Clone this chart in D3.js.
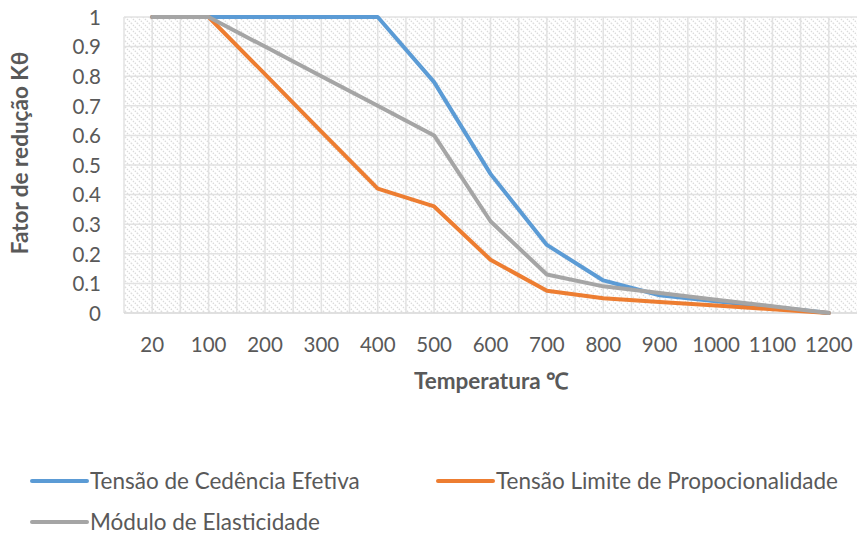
<!DOCTYPE html>
<html>
<head>
<meta charset="utf-8">
<script src="https://cdn.jsdelivr.net/npm/d3@7"></script>
<style>
  html, body { margin: 0; padding: 0; background: #fff; }
  svg { display: block; }
  text { font-family: Lato, "Open Sans", sans-serif; }
</style>
</head>
<body>
<svg id="chart" width="857" height="538"></svg>
<script>
const categories = ["20","100","200","300","400","500","600","700","800","900","1000","1100","1200"];
const tensaoCedencia = [1,1,1,1,1,0.78,0.47,0.23,0.11,0.06,0.04,0.02,0];
const tensaoLimite = [1,1,0.807,0.613,0.42,0.36,0.18,0.075,0.05,0.0375,0.025,0.0125,0];
const moduloElasticidade = [1,1,0.9,0.8,0.7,0.6,0.31,0.13,0.09,0.0675,0.045,0.0225,0];
const yTicks = [0,0.1,0.2,0.3,0.4,0.5,0.6,0.7,0.8,0.9,1];
const seriesNames = ["Tensão de Cedência Efetiva","Tensão Limite de Propocionalidade","Módulo de Elasticidade"];
const seriesColors = ["#5B9BD5","#ED7D31","#A5A5A5"];
const xTitle = "Temperatura \u2103";
const yTitle = "Fator de redução Kθ";

const series = [
  {name: seriesNames[0], color: seriesColors[0], values: tensaoCedencia},
  {name: seriesNames[1], color: seriesColors[1], values: tensaoLimite},
  {name: seriesNames[2], color: seriesColors[2], values: moduloElasticidade}
];

const svg = d3.select("#chart");
const plot = {left: 124, right: 857, top: 17, bottom: 313};

const x = d3.scaleBand().domain(categories).range([plot.left, plot.right]).paddingInner(0).paddingOuter(0);
const y = d3.scaleLinear().domain([0, 1]).range([plot.bottom, plot.top]);
const cx = c => x(c) + x.bandwidth() / 2;

// hatch pattern
const defs = svg.append("defs");
const pat = defs.append("pattern")
  .attr("id", "hatch").attr("patternUnits", "userSpaceOnUse")
  .attr("width", 6).attr("height", 6);
pat.append("path").attr("d", "M-1,-1 L7,7 M-1,5 L1,7 M5,-1 L7,1")
  .attr("stroke", "#dadada").attr("stroke-width", 1.3).attr("stroke-dasharray", "1.5,1.2");

svg.append("rect")
  .attr("x", plot.left).attr("y", plot.top)
  .attr("width", plot.right - plot.left).attr("height", plot.bottom - plot.top)
  .attr("fill", "url(#hatch)");

// vertical gridlines (category centers and boundaries)
const vLines = [];
categories.forEach(c => { vLines.push(x(c)); vLines.push(cx(c)); });
svg.append("g").selectAll("line").data(vLines).join("line")
  .attr("x1", d => d).attr("x2", d => d)
  .attr("y1", plot.top).attr("y2", plot.bottom)
  .attr("stroke", "#e2e2e2").attr("stroke-width", 1.5);

// horizontal gridlines
svg.append("g").selectAll("line").data(yTicks).join("line")
  .attr("x1", plot.left).attr("x2", plot.right)
  .attr("y1", d => y(d)).attr("y2", d => y(d))
  .attr("stroke", d => d === 0 ? "#d6d6d6" : "#e2e2e2").attr("stroke-width", 1.5);

// y axis labels
const yAxis = d3.axisLeft(y).tickValues(yTicks).tickSize(0).tickPadding(0)
  .tickFormat(d => d3.format("")(+d.toFixed(1)));
const gy = svg.append("g").attr("transform", `translate(101,0)`).call(yAxis);
gy.select(".domain").remove();
gy.selectAll("text").attr("font-size", 20.5).attr("fill", "#595959")
  .attr("font-family", "Lato, sans-serif").attr("dy", "0.36em");

// x axis labels
const xAxis = d3.axisBottom(x).tickSize(0).tickPadding(0);
const gx = svg.append("g").attr("transform", `translate(0,352)`).call(xAxis);
gx.select(".domain").remove();
gx.selectAll("text").attr("font-size", 20.5).attr("fill", "#595959")
  .attr("font-family", "Lato, sans-serif").attr("dy", 0);

// lines
const line = d3.line().x((d, i) => cx(categories[i])).y(d => y(d));
svg.append("g").selectAll("path").data(series).join("path")
  .attr("d", d => line(d.values))
  .attr("fill", "none").attr("stroke", d => d.color)
  .attr("stroke-width", 4).attr("stroke-linejoin", "round").attr("stroke-linecap", "round");

// axis titles
svg.append("text").attr("x", 491).attr("y", 389).attr("text-anchor", "middle")
  .attr("font-size", 22.5).attr("font-weight", "bold").attr("fill", "#595959").text(xTitle);
svg.append("text").attr("transform", "translate(28,153) rotate(-90)").attr("text-anchor", "middle")
  .attr("font-size", 22.5).attr("font-weight", "bold").attr("fill", "#595959").text(yTitle);

// legend
const legendPos = [{x: 32, y: 481}, {x: 438, y: 481}, {x: 32, y: 522}];
const lg = svg.append("g").selectAll("g").data(series).join("g")
  .attr("transform", (d, i) => `translate(${legendPos[i].x},${legendPos[i].y})`);
lg.append("line").attr("x1", 0).attr("x2", 55).attr("y1", 0).attr("y2", 0)
  .attr("stroke", d => d.color).attr("stroke-width", 4).attr("stroke-linecap", "round");
lg.append("text").attr("x", 58).attr("y", 0).attr("dy", "0.35em")
  .attr("font-size", 22.5).attr("fill", "#595959").text(d => d.name);
</script>
</body>
</html>
